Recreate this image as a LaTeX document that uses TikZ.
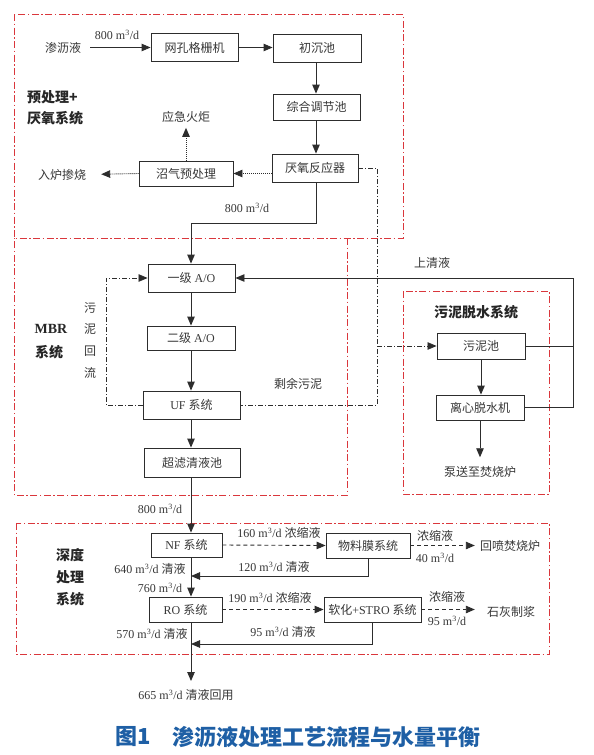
\documentclass[tikz,border=0pt]{standalone}
\usepackage{fontspec}
\setmainfont{Liberation Serif}
\newfontfamily\cjk{Noto Sans CJK SC}
\usetikzlibrary{arrows.meta}
\definecolor{ln}{RGB}{45,45,45}
\definecolor{tx}{RGB}{55,55,55}
\definecolor{rd}{RGB}{218,55,60}
\definecolor{capc}{RGB}{30,95,165}
\newcommand\mcu{m\textsuperscript{3}/d}
\newcommand\zh[1]{{\cjk #1}}
\begin{document}
\begin{tikzpicture}[x=1pt,y=-1pt,
  box/.style={draw=ln,line width=0.9pt,inner sep=0pt,font=\fontsize{12}{12}\selectfont,text=tx},
  lab/.style={inner sep=1pt,font=\fontsize{12}{12}\selectfont,text=tx},
  blab/.style={inner sep=0pt,font=\cjk\bfseries\fontsize{14}{14}\selectfont,text=black!85},
  arr/.style={draw=ln,line width=0.9pt,-{Triangle[length=9pt,width=7.5pt]}},
  cline/.style={draw=ln,line width=0.9pt},
  dotarr/.style={arr,dash pattern=on 1pt off 1pt},
  dasharr/.style={arr,dash pattern=on 4pt off 3pt},
  dd/.style={cline,line width=0.8pt,dash pattern=on 5pt off 2pt on 1pt off 2pt},
  ddarr/.style={arr,line width=0.8pt,dash pattern=on 5pt off 2pt on 1pt off 2pt},
  redbox/.style={draw=rd,line width=1pt,dash pattern=on 7pt off 2.5pt on 1.5pt off 2.5pt}
]
\useasboundingbox (0,0) rectangle (594,755);
\fill[white] (0,0) rectangle (594,755);

% red system frames
\draw[redbox] (14,14) rectangle (403,238);
\draw[redbox] (347,238) -- (347,495) -- (14,495) -- (14,238);
\draw[redbox] (403,291) rectangle (549,494);
\draw[redbox] (16,523) rectangle (549,654);

% helper coordinates
\coordinate (mx) at (191,0);
\coordinate (cx) at (316,0);
\coordinate (rx) at (106,0);
\coordinate (sx) at (377,0);
\coordinate (qx) at (573,0);
\coordinate (j1) at (191,223);
\coordinate (j2) at (191,576);
\coordinate (j3) at (191,644);
\coordinate (e1) at (191,681);

% boxes
\node[box,minimum width=87pt,minimum height=28pt] (wk) at (194.5,47.5) {\zh{网孔格栅机}};
\node[box,minimum width=88pt,minimum height=28pt] (cc) at (317,48) {\zh{初沉池}};
\node[box,minimum width=87pt,minimum height=26pt] (zh) at (316.5,107) {\zh{综合调节池}};
\node[box,minimum width=86pt,minimum height=28pt] (yy) at (315,168) {\zh{厌氧反应器}};
\node[box,minimum width=94pt,minimum height=25pt] (zq) at (186,173.5) {\zh{沼气预处理}};
\node[box,minimum width=87pt,minimum height=28pt] (a1) at (191.5,278) {\zh{一级} A/O};
\node[box,minimum width=88pt,minimum height=24pt] (a2) at (191,338) {\zh{二级} A/O};
\node[box,minimum width=97pt,minimum height=28pt] (uf) at (191.5,405) {UF \zh{系统}};
\node[box,minimum width=96pt,minimum height=29pt] (cl) at (192,462.5) {\zh{超滤清液池}};
\node[box,minimum width=88pt,minimum height=26pt] (wn) at (481,346) {\zh{污泥池}};
\node[box,minimum width=88pt,minimum height=25pt] (lx) at (480,407.5) {\zh{离心脱水机}};
\node[box,minimum width=71pt,minimum height=24pt] (nf) at (186.5,545) {NF \zh{系统}};
\node[box,minimum width=84pt,minimum height=25pt] (wl) at (368,545.5) {\zh{物料膜系统}};
\node[box,minimum width=73pt,minimum height=25pt] (ro) at (185.5,609.5) {RO \zh{系统}};
\node[box,minimum width=97pt,minimum height=25pt] (st) at (372.5,609.5) {\zh{软化}+STRO \zh{系统}};

% text labels
\node[lab] (sl) at (63,47.5) {\zh{渗沥液}};
\node[lab] (l800a) at (117,35) {800 \mcu};
\node[lab] (hj) at (186,117) {\zh{应急火炬}};
\node[lab] (rl) at (62,174.5) {\zh{入炉掺烧}};
\node[blab,anchor=west] (pre1) at (27,97) {预处理+};
\node[blab,anchor=west] (pre2) at (27,118) {厌氧系统};
\node[lab] (l800b) at (247,208) {800 \mcu};
\node[inner sep=0pt,font=\bfseries\fontsize{14}{14}\selectfont,text=black!85] (mbr1) at (51,329) {MBR};
\node[blab] (mbr2) at (49,352) {系统};
\node[lab] (hl1) at (90,308) {\zh{污}};
\node[lab] (hl2) at (90,329) {\zh{泥}};
\node[lab] (hl3) at (90,351) {\zh{回}};
\node[lab] (hl4) at (90,373) {\zh{流}};
\node[lab] (sy) at (298,384) {\zh{剩余污泥}};
\node[lab] (sq) at (432,263) {\zh{上清液}};
\node[blab] (wnt) at (476,312) {污泥脱水系统};
\node[lab] (bs) at (480,472) {\zh{泵送至焚烧炉}};
\node[lab] (l800c) at (160,509) {800 \mcu};
\node[blab] (sd1) at (70,555) {深度};
\node[blab] (sd2) at (70,577) {处理};
\node[blab] (sd3) at (70,599) {系统};
\node[lab] (l160) at (279,533) {160 \mcu\ \zh{浓缩液}};
\node[lab] (nsa) at (435,536) {\zh{浓缩液}};
\node[lab] (l40) at (435,558) {40 \mcu};
\node[lab] (hp) at (510,545.5) {\zh{回喷焚烧炉}};
\node[lab] (l120) at (274,567) {120 \mcu\ \zh{清液}};
\node[lab] (l640) at (150,569) {640 \mcu\ \zh{清液}};
\node[lab] (l760) at (160,588) {760 \mcu};
\node[lab] (l190) at (270,598) {190 \mcu\ \zh{浓缩液}};
\node[lab] (nsb) at (447,597) {\zh{浓缩液}};
\node[lab] (l95a) at (447,621) {95 \mcu};
\node[lab] (sh) at (511,612) {\zh{石灰制浆}};
\node[lab] (l95b) at (283,632) {95 \mcu\ \zh{清液}};
\node[lab] (l570) at (152,634) {570 \mcu\ \zh{清液}};
\node[lab] (hy) at (186,695) {665 \mcu\ \zh{清液回用}};
\node[inner sep=0pt,anchor=west,font=\cjk\bfseries\fontsize{22}{22}\selectfont,text=capc] (cap1) at (115,737) {图1};
\node[inner sep=0pt,anchor=west,font=\cjk\bfseries\fontsize{22}{22}\selectfont,text=capc] (cap2) at (172,737) {渗沥液处理工艺流程与水量平衡};

% pretreatment connectors
\draw[arr] (sl.east) ++(8,0) -- (wk.west);
\draw[arr] (wk.east) -- (wk.east -| cc.west);
\draw[arr] (cc.south -| cx) -- (zh.north -| cx);
\draw[arr] (zh.south -| cx) -- (yy.north -| cx);
\draw[dotarr] (zq.east -| yy.west) -- (zq.east);
\draw[dotarr,shorten >=4pt] (zq.north) -- (hj.south);
\draw[dotarr,shorten >=14pt] (zq.west) -- (rl.east);
\draw[arr] (yy.south -| cx) |- (j1) -- (a1.north -| mx);

% MBR connectors
\draw[arr] (a1.south -| mx) -- (a2.north -| mx);
\draw[arr] (a2.south -| mx) -- (uf.north -| mx);
\draw[arr] (uf.south -| mx) -- (cl.north -| mx);
\draw[ddarr] (uf.west) -- (uf.west -| rx) |- (a1.west);
\draw[dd] (yy.east) -- (yy.east -| sx) -- (uf.east -| sx) -- (uf.east);
\draw[ddarr] (wn.west -| sx) -- (wn.west);

% sludge dewatering connectors
\draw[arr] (wn.south) -- (wn.south |- lx.north);
\draw[arr,shorten >=8pt] (lx.south) -- (bs.north);
\draw[cline] (wn.east) -- (wn.east -| qx);
\draw[arr] (lx.east) -- (lx.east -| qx) |- (a1.east);

% deep treatment connectors
\draw[arr] (cl.south -| mx) -- (nf.north -| mx);
\draw[dasharr] (nf.east) -- (wl.west);
\draw[dasharr,shorten >=4pt] (wl.east) -- (hp.west);
\draw[arr] (wl.south) |- (j2);
\draw[arr] (nf.south -| mx) -- (ro.north -| mx);
\draw[dasharr] (ro.east) -- (st.west);
\draw[dasharr,shorten >=11pt] (st.east) -- (st.east -| sh.west);
\draw[arr] (st.south) |- (j3);
\draw[arr] (ro.south -| mx) -- (e1);
\end{tikzpicture}
\end{document}
